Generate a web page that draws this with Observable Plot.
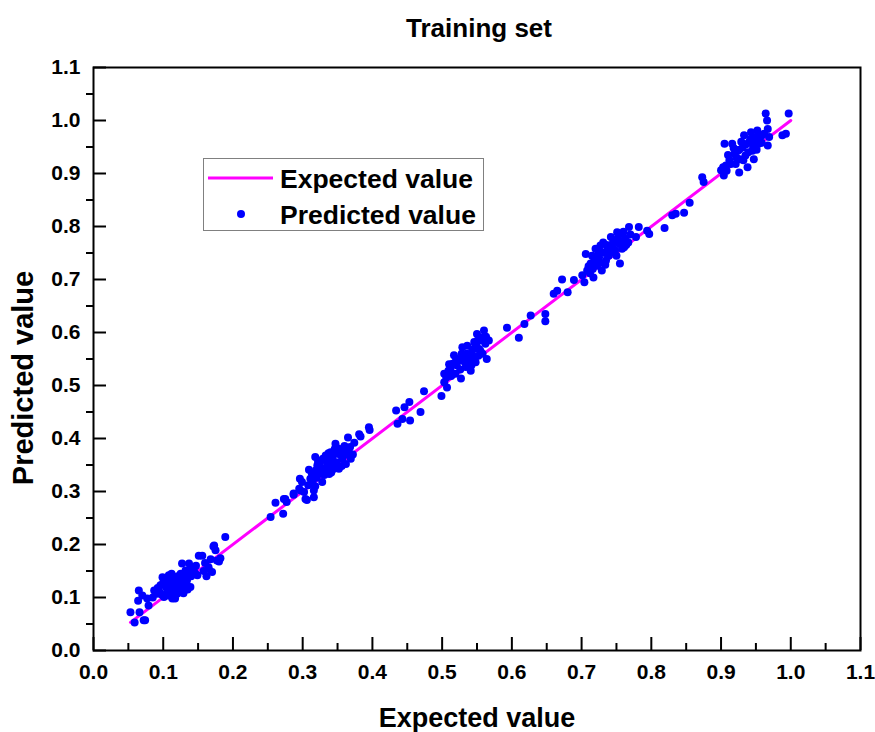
<!DOCTYPE html>
<html>
<head>
<meta charset="utf-8">
<script src="https://cdn.jsdelivr.net/npm/d3@7"></script>
<script src="https://cdn.jsdelivr.net/npm/@observablehq/plot@0.6"></script>
<style>
  body { margin: 0; background: #fff; }
  #chart { position: relative; width: 875px; height: 732px; font-family: "Liberation Sans", Arial, sans-serif; font-weight: bold; color: #000; }
  .lbl { position: absolute; white-space: nowrap; line-height: 1; }
  #legend { position: absolute; left: 203px; top: 158px; width: 279px; height: 71px; border: 1px solid #808080; background: #fff; }
</style>
</head>
<body>
<div id="chart"></div>
<script>
// Axis ticks
const majorTicks = [0, 0.1, 0.2, 0.3, 0.4, 0.5, 0.6, 0.7, 0.8, 0.9, 1.0, 1.1];
const minorTicks = [0.05, 0.15, 0.25, 0.35, 0.45, 0.55, 0.65, 0.75, 0.85, 0.95, 1.05];

// Reference line y = x over the range of expected values
const lineValues = [0.053, 1.0];

// Training samples: expected value and model prediction
const expected = [
  0.053,0.059,0.066,0.072,0.074,0.065,0.070,0.064,0.077,0.079,0.087,0.091,0.096,0.099,0.101,0.106,0.103,0.108,0.110,0.113,
  0.115,0.118,0.120,0.122,0.125,0.127,0.130,0.132,0.134,0.137,0.139,0.142,0.146,0.149,0.151,0.156,0.165,0.165,0.170,0.172,
  0.173,0.175,0.177,0.182,0.189,
  0.095,0.098,0.104,0.107,0.111,0.114,0.116,0.119,0.121,0.124,0.126,0.128,0.131,0.133,0.136,0.140,0.144,0.147,0.100,0.092,
  0.085,0.117,0.112,0.129,0.135,0.160,0.158,0.168,0.180,0.162,
  0.254,0.272,0.261,0.273,0.277,0.275,0.287,0.287,0.295,0.302,0.306,0.304,0.296,0.299,0.297,0.309,0.311,0.316,0.316,0.318,
  0.321,0.323,0.326,0.328,0.330,0.333,0.335,0.338,0.340,0.342,0.345,0.347,0.350,0.352,0.353,0.357,0.362,0.365,0.366,0.369,
  0.368,0.374,0.381,0.383,0.395,0.396,
  0.313,0.319,0.325,0.331,0.336,0.339,0.343,0.348,0.351,0.355,0.359,0.320,0.327,0.334,0.344,0.322,0.329,0.337,0.346,0.314,
  0.308,0.318,0.341,0.363,0.360,0.372,0.356,
  0.434,0.436,0.443,0.446,0.453,0.454,0.469,0.474,0.499,
  0.503,0.507,0.503,0.506,0.512,0.515,0.517,0.519,0.524,0.527,0.529,0.531,0.534,0.536,0.538,0.541,0.543,0.546,0.548,0.550,
  0.553,0.555,0.558,0.560,0.562,0.564,0.567,
  0.509,0.513,0.521,0.526,0.532,0.535,0.540,0.544,0.549,0.552,0.557,0.520,0.528,0.542,0.546,0.555,0.563,0.510,0.537,0.551,
  0.593,0.610,0.618,0.627,0.648,0.648,
  0.660,0.665,0.672,0.680,0.689,0.701,0.704,0.708,0.706,0.713,0.715,0.717,0.720,0.723,0.725,0.727,0.729,0.731,0.735,0.737,
  0.739,0.742,0.744,0.746,0.749,0.751,0.754,0.755,0.759,0.761,0.763,0.767,0.768,0.778,0.782,0.794,0.797,
  0.710,0.718,0.722,0.726,0.733,0.736,0.740,0.745,0.748,0.752,0.757,0.760,0.764,0.712,0.716,0.728,0.734,0.750,0.758,0.770,
  0.819,0.830,0.835,0.847,0.855,
  0.873,0.875,0.900,0.904,0.907,0.905,0.912,0.916,0.919,0.921,0.924,0.926,0.927,0.931,0.933,0.935,0.938,0.940,0.943,0.945,
  0.947,0.950,0.952,0.954,0.959,0.964,0.966,0.967,0.969,0.967,0.988,0.993,0.997,
  0.910,0.914,0.918,0.922,0.926,0.929,0.932,0.936,0.939,0.942,0.946,0.948,0.951,0.955,0.958,0.962,0.908,0.903
];
const predicted = [
  0.072,0.053,0.072,0.057,0.057,0.113,0.104,0.094,0.098,0.085,0.113,0.107,0.123,0.138,0.101,0.113,0.132,0.142,0.126,0.098,
  0.116,0.135,0.107,0.126,0.145,0.164,0.116,0.151,0.132,0.164,0.120,0.157,0.145,0.142,0.179,0.179,0.157,0.154,0.148,0.196,
  0.198,0.189,0.170,0.174,0.214,
  0.110,0.105,0.120,0.104,0.135,0.110,0.128,0.118,0.140,0.112,0.130,0.122,0.140,0.124,0.150,0.140,0.152,0.160,0.128,0.118,
  0.100,0.098,0.145,0.108,0.115,0.165,0.150,0.172,0.168,0.140,
  0.252,0.258,0.279,0.286,0.280,0.286,0.294,0.296,0.305,0.299,0.284,0.286,0.324,0.318,0.302,0.341,0.324,0.302,0.289,0.365,
  0.349,0.333,0.358,0.318,0.343,0.368,0.352,0.333,0.374,0.358,0.343,0.390,0.371,0.343,0.374,0.362,0.352,0.402,0.377,0.362,
  0.384,0.392,0.408,0.404,0.421,0.416,
  0.335,0.340,0.346,0.331,0.362,0.350,0.366,0.355,0.381,0.368,0.378,0.326,0.335,0.340,0.348,0.356,0.362,0.372,0.380,0.318,
  0.312,0.310,0.336,0.370,0.386,0.370,0.348,
  0.453,0.428,0.437,0.459,0.469,0.434,0.450,0.489,0.480,
  0.506,0.496,0.522,0.515,0.532,0.541,0.557,0.522,0.547,0.513,0.572,0.557,0.535,0.575,0.553,0.528,0.566,0.582,0.544,0.597,
  0.569,0.585,0.560,0.604,0.579,0.550,0.585,
  0.528,0.518,0.538,0.530,0.545,0.560,0.548,0.555,0.575,0.556,0.590,0.550,0.560,0.538,0.570,0.565,0.592,0.540,0.540,0.585,
  0.609,0.590,0.616,0.632,0.635,0.621,
  0.673,0.679,0.700,0.676,0.699,0.708,0.695,0.717,0.748,0.730,0.745,0.704,0.758,0.726,0.742,0.764,0.717,0.770,0.736,0.755,
  0.745,0.780,0.761,0.751,0.774,0.789,0.767,0.730,0.786,0.761,0.777,0.770,0.799,0.780,0.799,0.792,0.786,
  0.725,0.735,0.745,0.732,0.750,0.765,0.760,0.770,0.755,0.778,0.772,0.790,0.765,0.712,0.720,0.752,0.728,0.745,0.758,0.785,
  0.797,0.821,0.824,0.826,0.845,
  0.893,0.884,0.906,0.896,0.915,0.956,0.925,0.956,0.937,0.918,0.943,0.902,0.927,0.949,0.972,0.934,0.912,0.959,0.978,0.943,
  0.927,0.969,0.981,0.956,0.972,1.013,1.000,0.984,0.969,0.953,0.972,0.975,1.013,
  0.935,0.918,0.948,0.930,0.945,0.960,0.925,0.955,0.940,0.965,0.950,0.962,0.945,0.970,0.958,0.975,0.905,0.912
];

const samples = expected.map((e, i) => ({expected: e, predicted: predicted[i]}));
const refLine = lineValues.map(v => ({expected: v, predicted: v}));
const fmt = d => d.toFixed(1);

const plot = Plot.plot({
  width: 875,
  height: 732,
  marginTop: 67,
  marginBottom: 82,
  marginLeft: 93,
  marginRight: 15,
  style: {fontFamily: "Liberation Sans, Arial, sans-serif", background: "#fff", overflow: "visible"},
  x: {domain: [0, 1.1]},
  y: {domain: [0, 1.1]},
  marks: [
    // tick labels
    Plot.axisX(majorTicks, {anchor: "bottom", tickSize: 0, tickPadding: 14, tickFormat: fmt, fontSize: 21, fontWeight: "bold", label: null}),
    Plot.axisY(majorTicks, {anchor: "left", tickSize: 0, tickPadding: 13, tickFormat: fmt, fontSize: 21, fontWeight: "bold", label: null}),
    // inward major ticks, inward minor ticks on x, outward minor ticks on y
    Plot.axisX(majorTicks, {anchor: "bottom", tickSize: -13, strokeWidth: 2, tickFormat: () => "", label: null}),
    Plot.axisX(minorTicks, {anchor: "bottom", tickSize: -7, strokeWidth: 2, tickFormat: () => "", label: null}),
    Plot.axisY(majorTicks, {anchor: "left", tickSize: -13, strokeWidth: 2, tickFormat: () => "", label: null}),
    Plot.axisY(minorTicks, {anchor: "left", tickSize: 7, strokeWidth: 2, tickFormat: () => "", label: null}),
    Plot.line(refLine, {x: "expected", y: "predicted", stroke: "#ff00ff", strokeWidth: 3}),
    Plot.dot(samples, {x: "expected", y: "predicted", r: 4, fill: "#0000ff", stroke: "none"}),
    Plot.frame({stroke: "#000", strokeWidth: 2})
  ]
});

const chart = document.getElementById("chart");
chart.appendChild(plot);

function addLabel(text, css) {
  const d = document.createElement("div");
  d.className = "lbl";
  d.textContent = text;
  Object.assign(d.style, css);
  chart.appendChild(d);
  return d;
}

addLabel("Training set", {left: "479px", top: "28px", fontSize: "26px", transform: "translate(-50%, -50%)"});
addLabel("Expected value", {left: "477px", top: "718px", fontSize: "27px", transform: "translate(-50%, -50%)"});
addLabel("Predicted value", {left: "23px", top: "378px", fontSize: "29px", transform: "translate(-50%, -50%) rotate(-90deg)"});

// legend
const legend = document.createElement("div");
legend.id = "legend";
legend.innerHTML = `
  <svg width="279" height="71" style="position:absolute;left:0;top:0">
    <line x1="4" x2="69" y1="19" y2="19" stroke="#ff00ff" stroke-width="3"/>
    <circle cx="37" cy="55" r="4" fill="#0000ff"/>
  </svg>
  <div class="lbl" style="left:76px;top:20px;font-size:26.5px;transform:translateY(-50%)">Expected value</div>
  <div class="lbl" style="left:76px;top:56px;font-size:26.5px;transform:translateY(-50%)">Predicted value</div>`;
chart.appendChild(legend);
</script>
</body>
</html>
